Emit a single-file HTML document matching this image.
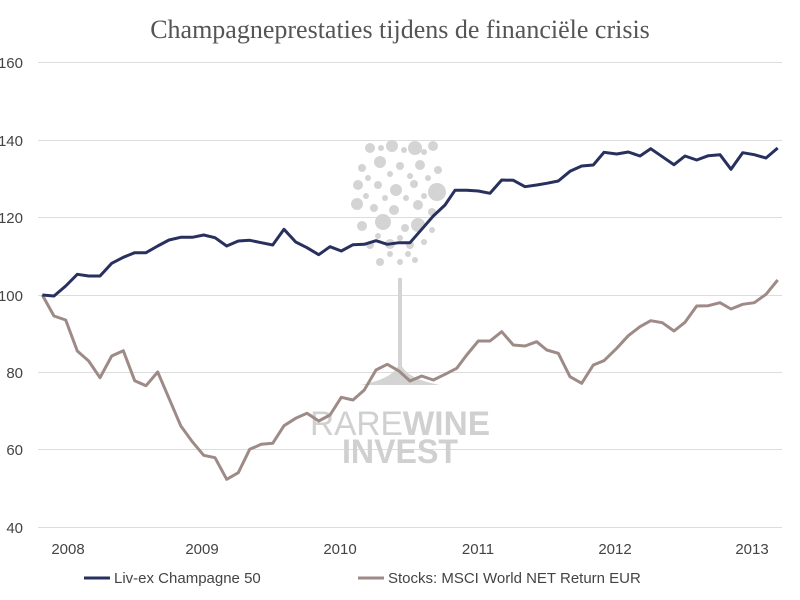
<!DOCTYPE html>
<html><head><meta charset="utf-8"><style>
body{margin:0;background:#fff;}
svg{display:block;font-family:"Liberation Sans",sans-serif;}
</style></head><body>
<svg width="800" height="600" viewBox="0 0 800 600">
<text x="400" y="38" text-anchor="middle" font-family="Liberation Serif,serif" font-size="26" fill="#555">Champagneprestaties tijdens de financiële crisis</text>
<g stroke="#ddd" stroke-width="1">
<line x1="38" x2="782" y1="62.5" y2="62.5"/><line x1="38" x2="782" y1="140.5" y2="140.5"/><line x1="38" x2="782" y1="217.5" y2="217.5"/><line x1="38" x2="782" y1="295.5" y2="295.5"/><line x1="38" x2="782" y1="372.5" y2="372.5"/><line x1="38" x2="782" y1="449.5" y2="449.5"/><line x1="38" x2="782" y1="527.5" y2="527.5"/>
</g>
<g font-size="15" fill="#444" text-anchor="end">
<text x="23" y="68">160</text><text x="23" y="146">140</text><text x="23" y="223">120</text><text x="23" y="301">100</text><text x="23" y="378">80</text><text x="23" y="455">60</text><text x="23" y="533">40</text>
</g>
<g font-size="15" fill="#444" text-anchor="middle">
<text x="68" y="554">2008</text><text x="202" y="554">2009</text><text x="340" y="554">2010</text><text x="478" y="554">2011</text><text x="615" y="554">2012</text><text x="752" y="554">2013</text>
</g>
<!-- watermark -->
<g fill="#d4d4d4">
<circle cx="370" cy="148" r="5"/><circle cx="392" cy="146" r="6"/><circle cx="415" cy="148" r="7"/><circle cx="433" cy="146" r="5"/>
<circle cx="381" cy="148" r="3"/><circle cx="404" cy="150" r="3"/><circle cx="424" cy="152" r="3"/>
<circle cx="362" cy="168" r="4"/><circle cx="380" cy="162" r="6"/><circle cx="400" cy="166" r="4"/><circle cx="420" cy="165" r="5"/><circle cx="438" cy="170" r="4"/>
<circle cx="390" cy="174" r="3"/><circle cx="410" cy="176" r="3"/><circle cx="428" cy="178" r="3"/><circle cx="368" cy="178" r="3"/>
<circle cx="358" cy="185" r="5"/><circle cx="378" cy="185" r="4"/><circle cx="396" cy="190" r="6"/><circle cx="414" cy="184" r="4"/><circle cx="437" cy="192" r="9"/>
<circle cx="385" cy="198" r="3"/><circle cx="406" cy="198" r="3"/><circle cx="424" cy="196" r="3"/><circle cx="366" cy="196" r="3"/>
<circle cx="357" cy="204" r="6"/><circle cx="374" cy="208" r="4"/><circle cx="394" cy="210" r="5"/><circle cx="418" cy="205" r="5"/><circle cx="432" cy="212" r="4"/>
<circle cx="362" cy="226" r="5"/><circle cx="383" cy="222" r="8"/><circle cx="405" cy="228" r="4"/><circle cx="418" cy="225" r="7"/><circle cx="432" cy="230" r="3"/>
<circle cx="370" cy="245" r="4"/><circle cx="390" cy="244" r="5"/><circle cx="410" cy="245" r="4"/><circle cx="378" cy="236" r="3"/><circle cx="400" cy="238" r="3"/><circle cx="424" cy="242" r="3"/>
<circle cx="380" cy="262" r="4"/><circle cx="400" cy="262" r="3"/><circle cx="415" cy="260" r="3"/><circle cx="390" cy="254" r="3"/><circle cx="408" cy="254" r="3"/>
<rect x="398" y="278" width="4" height="90"/>
<path d="M360 385 Q398 378 400 360 Q402 378 440 385 Z"/>
</g>
<g fill="#d0d0d0" font-size="34" font-weight="bold" text-anchor="middle">
<text x="400" y="435" textLength="180" lengthAdjust="spacingAndGlyphs"><tspan font-weight="normal">RARE</tspan>WINE</text>
<text x="400" y="463" textLength="116" lengthAdjust="spacingAndGlyphs">INVEST</text>
</g>
<polyline fill="none" stroke="#9e8a87" stroke-width="3" stroke-linejoin="round" points="42.3,295 54,316 65.7,320 77.3,351 88.7,361 100,377.7 111.7,356 123.3,350.7 134.7,380.7 146,385.7 157.7,372 169,398.3 180.7,425.7 192.3,441.7 203.7,455.3 215,457.7 226.7,479.3 238.3,472.7 249.7,449.3 261.3,444.3 272.7,443.3 284,425.7 295.7,418.3 307,413.3 318.7,421 330,415 341.3,397.3 353,400 364.3,390 376,370 387.3,364.3 399,371 410,381 421.7,376 433.3,380 445,374.3 456.7,368.3 466.7,355 478.3,341 490,341 501.7,331.7 513.3,345 525,346 536.7,341.7 546.7,350 558.3,353.3 570,376.7 581.7,383.3 593.3,365 604,360.7 616.7,348.3 628.3,335.7 640,326.7 650.7,320.7 662.3,322.7 674,331 685,322.3 696.7,306 708.3,305.7 720,302.7 731,309 742.7,304.3 754.3,302.7 766,294.3 777.7,280"/>
<polyline fill="none" stroke="#28305e" stroke-width="3" stroke-linejoin="round" points="42.3,295 54,296 65.7,286 77.3,274.3 88.7,276 100,276 111.7,263.3 123.3,257.3 134.7,252.7 146,252.7 157.7,246 169,240 180.7,237.3 192.3,237.3 203.7,235 215,237.7 226.7,246 238.3,241 249.7,240.3 261.3,242.7 272.7,245 284,229.3 295.7,242 307,247.7 318.7,254.7 330,246.7 341.3,251 353,244.7 364.3,244.3 376,240.7 387.3,244.3 399,242.7 410,242.7 421.7,229.3 433.3,216 445,205 455,190.3 466.7,190.3 478.3,191 490,193.3 501.7,180 513.3,180.3 525,186.7 536.7,185 546.7,183.3 558.3,181 570,171.3 581.7,166 593.3,165 604,152.3 616.7,154 628.3,152 640,156 650.7,148.7 662.3,156.7 674,164.7 685,156 696.7,160 708.3,155.7 720,154.7 731,169.3 742.7,152.7 754.3,154.7 766,158 777.7,148"/>
<g font-size="15" fill="#444">
<line x1="84" x2="110" y1="578" y2="578" stroke="#28305e" stroke-width="3"/>
<text x="114" y="583">Liv-ex Champagne 50</text>
<line x1="358" x2="384" y1="578" y2="578" stroke="#9e8a87" stroke-width="3"/>
<text x="388" y="583">Stocks: MSCI World NET Return EUR</text>
</g>
</svg>
</body></html>
